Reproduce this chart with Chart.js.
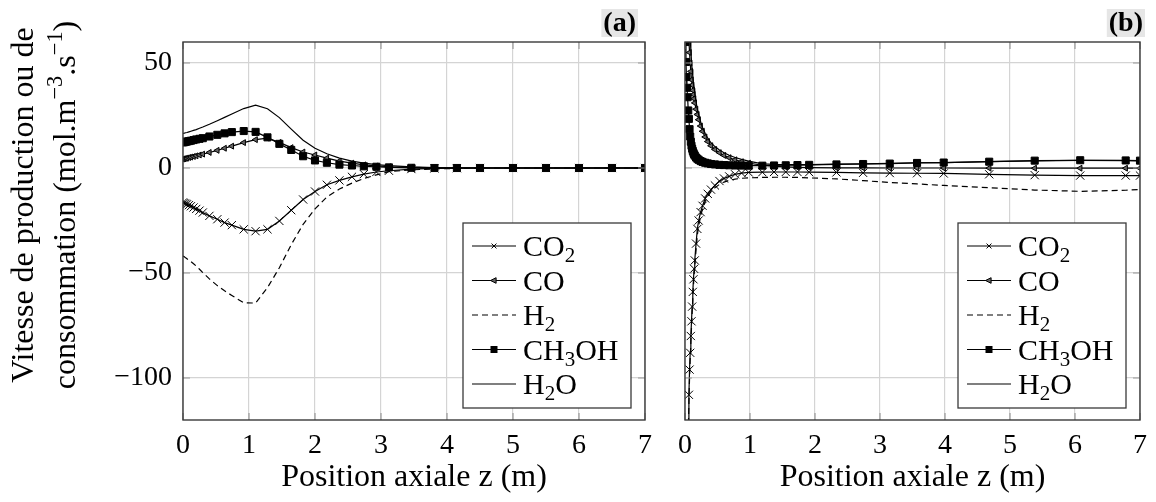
<!DOCTYPE html>
<html>
<head>
<meta charset="utf-8">
<script src="https://cdn.jsdelivr.net/npm/chart.js@4.4.0/dist/chart.umd.min.js"></script>
<style>
  html, body { margin: 0; padding: 0; background: #fff; }
  #wrap { position: relative; width: 1156px; height: 502px; }
  .panel { position: absolute; top: 0; }
  #panelA { left: 0; }
  #panelB { left: 665px; }
</style>
</head>
<body>
<div id="wrap">
  <div class="panel" id="panelA"><canvas id="chartA" width="665" height="502"></canvas></div>
  <div class="panel" id="panelB"><canvas id="chartB" width="491" height="502"></canvas></div>
</div>
<script>
// ---- data ----
const seriesNames = ['CO₂', 'CO', 'H₂', 'CH₃OH', 'H₂O'];
const xTicks = [0, 1, 2, 3, 4, 5, 6, 7];
const yTicks = [-100, -50, 0, 50];

// panel (a)
const zA = [0, 0.02, 0.04, 0.06, 0.09, 0.12, 0.16, 0.2, 0.25, 0.3,
  0.4, 0.52, 0.63, 0.74, 0.92, 1.1, 1.28, 1.46, 1.64, 1.82,
  2.0, 2.18, 2.37, 2.56, 2.74, 2.93, 3.12, 3.46, 3.81, 4.15,
  4.5, 5.0, 5.5, 6.0, 6.5, 7.0];
const co2A = [-16.4, -16.7, -17.0, -17.3, -17.7, -18.2, -18.8, -19.5, -20.3, -21.2,
  -22.8, -24.4, -26.0, -27.2, -29.2, -30.1, -29.2, -25.2, -20.1, -15.0,
  -11.2, -8.0, -5.9, -4.2, -2.9, -1.9, -1.3, -0.5, -0.2, -0.1,
  0, 0, 0, 0, 0, 0];
const coA = [4.3, 4.4, 4.6, 4.7, 5.0, 5.2, 5.5, 5.8, 6.2, 6.6,
  7.4, 8.4, 9.4, 10.4, 12.1, 13.5, 14.2, 12.2, 9.7, 7.6,
  6.2, 4.7, 3.3, 2.3, 1.5, 1.0, 0.6, 0.3, 0.1, 0,
  0, 0, 0, 0, 0, 0];
const h2A = [-41.9, -42.3, -42.8, -43.2, -43.9, -44.6, -45.6, -46.7, -48.2, -49.8,
  -52.8, -56.0, -58.5, -60.7, -64.2, -64.3, -57.0, -47.5, -36.5, -26.8,
  -19.5, -13.8, -10.0, -7.2, -5.0, -3.3, -1.7, -0.9, -0.4, -0.2,
  0, 0, 0, 0, 0, 0];
const ch3ohA = [12.2, 12.3, 12.5, 12.6, 12.8, 13.0, 13.3, 13.6, 13.9, 14.2,
  15.0, 15.8, 16.5, 17.1, 17.6, 17.2, 14.6, 11.5, 8.6, 5.6,
  3.6, 2.5, 1.6, 1.2, 0.8, 0.6, 0.3, 0.1, 0, 0,
  0, 0, 0, 0, 0, 0];
const h2oA = [16.5, 16.6, 16.8, 16.9, 17.2, 17.5, 17.9, 18.3, 18.9, 19.5,
  20.8, 22.5, 24.1, 25.7, 28.3, 29.9, 28.2, 24.0, 18.5, 13.2,
  9.4, 6.8, 4.7, 3.3, 2.3, 1.6, 1.1, 0.5, 0.2, 0.1,
  0, 0, 0, 0, 0, 0];

// panel (b)
const zB = [0.008, 0.015, 0.022, 0.03, 0.04, 0.05, 0.06, 0.07, 0.08, 0.09,
  0.1, 0.11, 0.12, 0.13, 0.14, 0.15, 0.17, 0.19, 0.21, 0.24,
  0.27, 0.31, 0.35, 0.4, 0.46, 0.53, 0.6, 0.68, 0.77, 0.87,
  0.98, 1.19, 1.37, 1.55, 1.73, 1.91, 2.33, 2.74, 3.15, 3.57,
  3.98, 4.68, 5.38, 6.08, 6.78, 7.0];
const co2B = [-250, -220, -190, -165, -140, -122, -108, -96, -88, -80,
  -73, -66, -59, -53, -48, -44, -36, -29, -25, -21,
  -18, -14.5, -12.3, -10.3, -8.3, -6.2, -5.0, -4.0, -3.0, -2.4,
  -2.1, -2.0, -1.9, -1.9, -1.9, -2.0, -2.1, -2.3, -2.4, -2.5,
  -2.6, -3.0, -3.4, -3.6, -3.6, -3.6];
const coB = [130, 115, 102, 90, 78, 68, 61, 55, 50, 46,
  42, 39.5, 37, 35, 33, 31, 28, 25.5, 23, 20,
  17.5, 14.8, 12.6, 10.6, 8.8, 7.3, 6.0, 4.9, 3.9, 3.0,
  2.3, 1.3, 0.8, 0.5, 0.3, 0.2, 0.1, 0.05, 0, 0,
  0, -0.05, -0.1, -0.1, -0.1, -0.1];
const h2B = [-260, -230, -200, -172, -145, -126, -112, -100, -91, -83,
  -76, -69, -62, -56, -51, -47, -39, -32, -27.5, -23,
  -19.5, -16, -13.5, -11.3, -9.4, -7.8, -6.7, -5.9, -5.3, -4.9,
  -4.7, -4.5, -4.4, -4.4, -4.5, -4.7, -5.2, -6.0, -6.9, -7.6,
  -8.3, -9.4, -10.5, -11.1, -10.6, -10.2];
const ch3ohB = [60, 50.5, 43.3, 38.2, 33.7, 27.4, 23.4, 18.5, 15, 12.5,
  10.6, 9.2, 8.1, 7.2, 6.5, 5.9, 5.0, 4.4, 3.9, 3.3,
  2.9, 2.5, 2.2, 1.9, 1.7, 1.5, 1.4, 1.3, 1.2, 1.15,
  1.1, 1.1, 1.2, 1.3, 1.4, 1.5, 1.7, 1.9, 2.1, 2.4,
  2.6, 3.0, 3.5, 3.7, 3.6, 3.5];
const h2oB = [200, 170, 145, 125, 105, 90, 78, 69, 62, 56,
  51, 47, 43.5, 40.5, 38, 35.5, 31.5, 28, 25.5, 22,
  19.3, 16.5, 14.2, 12, 10.2, 8.6, 7.3, 6.1, 5.0, 4.1,
  3.3, 2.0, 1.7, 1.6, 1.6, 1.6, 1.8, 2.0, 2.2, 2.5,
  2.6, 3.0, 3.4, 3.6, 3.5, 3.4];

// ---- styling ----
const FONT = '"Liberation Serif", "DejaVu Serif", serif';
const GRID = '#d4d4d4';
const markers = ['crossRot', 'triangle', false, 'rect', false];
const radii = [5.8, 3.4, 0, 5, 0];
const rotations = [0, -90, 0, 0, 0];
const fills = ['#000', '#666', '#000', '#000', '#000'];
const dashes = [[], [], [6, 4], [], []];

const SUBS = { '₀': '0', '₁': '1', '₂': '2', '₃': '3', '₄': '4' };
const SUPS = { '⁻': '−', '¹': '1', '²': '2', '³': '3' };

function runs(text) {
  const out = [];
  for (const ch of text) {
    const kind = SUBS[ch] ? 'sub' : (SUPS[ch] ? 'sup' : 'n');
    const t = SUBS[ch] || SUPS[ch] || ch;
    const last = out[out.length - 1];
    if (last && last.kind === kind) last.t += t;
    else out.push({ t, kind });
  }
  return out;
}

// draws text with sub/superscripts, baseline at y
function richText(ctx, text, x, y, size, align, bold) {
  const parts = runs(text);
  const setFont = k => { ctx.font = (bold ? 'bold ' : '') + (k === 'n' ? size : size * 0.7) + 'px ' + FONT; };
  let w = 0;
  parts.forEach(p => { setFont(p.kind); p.w = ctx.measureText(p.t).width; w += p.w; });
  let cx = align === 'center' ? x - w / 2 : x;
  ctx.textAlign = 'left';
  ctx.textBaseline = 'alphabetic';
  parts.forEach(p => {
    setFont(p.kind);
    const dy = p.kind === 'sub' ? size * 0.2 : (p.kind === 'sup' ? -size * 0.42 : 0);
    ctx.fillText(p.t, cx, y + dy);
    cx += p.w;
  });
  return w;
}

function drawMarker(ctx, style, x, y, r) {
  ctx.beginPath();
  if (style === 'crossRot') {
    const d = r * 0.7;
    ctx.moveTo(x - d, y - d); ctx.lineTo(x + d, y + d);
    ctx.moveTo(x + d, y - d); ctx.lineTo(x - d, y + d);
    ctx.stroke();
  } else if (style === 'triangle') {
    ctx.moveTo(x - r, y); ctx.lineTo(x + r * 0.6, y - r * 0.8); ctx.lineTo(x + r * 0.6, y + r * 0.8);
    ctx.closePath(); ctx.fill(); ctx.stroke();
  } else if (style === 'rect') {
    ctx.rect(x - r, y - r, 2 * r, 2 * r); ctx.fill();
  }
}

const panelDecor = {
  id: 'panelDecor',
  afterDatasetsDraw(chart, args, o) {
    const ctx = chart.ctx;
    const a = chart.chartArea;
    const xs = chart.scales.x, ys = chart.scales.y;
    ctx.save();
    // inner tick marks
    ctx.strokeStyle = '#9a9a9a';
    ctx.lineWidth = 1.2;
    ctx.beginPath();
    xTicks.forEach(v => {
      const px = xs.getPixelForValue(v);
      ctx.moveTo(px, a.top); ctx.lineTo(px, a.top + 7);
      ctx.moveTo(px, a.bottom); ctx.lineTo(px, a.bottom - 7);
    });
    yTicks.forEach(v => {
      const py = ys.getPixelForValue(v);
      ctx.moveTo(a.left, py); ctx.lineTo(a.left + 7, py);
      ctx.moveTo(a.right, py); ctx.lineTo(a.right - 7, py);
    });
    ctx.stroke();
    // frame
    ctx.strokeStyle = '#3a3a3a';
    ctx.lineWidth = 1.4;
    ctx.strokeRect(a.left, a.top, a.right - a.left, a.bottom - a.top);

    // legend box
    const bw = 168, bh = 185;
    const bx = a.right - 14 - bw, by = a.bottom - 12 - bh;
    ctx.fillStyle = '#fff';
    ctx.fillRect(bx, by, bw, bh);
    ctx.strokeStyle = '#3a3a3a';
    ctx.lineWidth = 1.3;
    ctx.strokeRect(bx, by, bw, bh);
    chart.data.datasets.forEach((ds, i) => {
      const ry = by + 23 + i * 34.5;
      ctx.strokeStyle = '#000';
      ctx.fillStyle = fills[i];
      ctx.lineWidth = 1.2;
      ctx.setLineDash(dashes[i]);
      ctx.beginPath();
      ctx.moveTo(bx + 9, ry); ctx.lineTo(bx + 53, ry);
      ctx.stroke();
      ctx.setLineDash([]);
      ctx.lineWidth = 1;
      if (markers[i]) drawMarker(ctx, markers[i], bx + 31, ry, 3.5);
      ctx.fillStyle = '#000';
      richText(ctx, ds.label, bx + 60, ry + 10, 30, 'left', false);
    });

    // panel label
    ctx.font = 'bold 28px ' + FONT;
    const lw = ctx.measureText(o.label).width;
    const lx = o.labelRight - lw;
    ctx.fillStyle = '#e6e6e6';
    ctx.fillRect(lx - 2, 9, lw + 4, 28);
    ctx.fillStyle = '#000';
    richText(ctx, o.label, lx, 31, 28, 'left', true);

    // y axis title (panel a only)
    if (o.yTitle) {
      o.yTitle.forEach((line, k) => {
        ctx.save();
        ctx.translate(o.yTitleX[k], o.yTitleY);
        ctx.rotate(-Math.PI / 2);
        ctx.fillStyle = '#000';
        richText(ctx, line, 0, 0, 32, 'center', false);
        ctx.restore();
      });
    }
    ctx.restore();
  }
};

function makeChart(id, zs, cols, cfg) {
  const datasets = seriesNames.map((name, i) => ({
    label: name,
    data: zs.map((z, k) => ({ x: z, y: cols[i][k] })),
    borderColor: '#000',
    backgroundColor: fills[i],
    borderWidth: 1.2,
    borderDash: dashes[i],
    pointStyle: markers[i] || 'circle',
    pointRadius: radii[i],
    pointHoverRadius: radii[i],
    pointRotation: rotations[i],
    pointBorderColor: '#000',
    pointBorderWidth: 1,
    tension: 0,
    order: -i,
  }));

  return new Chart(document.getElementById(id), {
    type: 'line',
    data: { datasets },
    plugins: [panelDecor],
    options: {
      responsive: false,
      animation: false,
      events: [],
      layout: { padding: { left: 0, right: cfg.padRight, top: 42, bottom: 0 } },
      plugins: {
        legend: { display: false },
        tooltip: { enabled: false },
        panelDecor: cfg.decor,
      },
      scales: {
        x: {
          type: 'linear',
          min: 0,
          max: 7,
          afterBuildTicks: s => { s.ticks = xTicks.map(v => ({ value: v })); },
          afterFit: s => { s.height = 82; },
          grid: { color: GRID, lineWidth: 1.2, drawTicks: false },
          border: { display: false },
          ticks: { color: '#000', font: { family: FONT, size: 28 }, padding: 9, maxRotation: 0 },
          title: {
            display: true,
            text: 'Position axiale z (m)',
            color: '#000',
            font: { family: FONT, size: 32 },
            padding: { top: 0, bottom: 5 },
          },
        },
        y: {
          type: 'linear',
          min: -120,
          max: 60,
          afterBuildTicks: s => { s.ticks = yTicks.map(v => ({ value: v })); },
          afterFit: s => { s.width = cfg.yWidth; },
          grid: { color: GRID, lineWidth: 1.2, drawTicks: false },
          border: { display: false },
          ticks: {
            display: cfg.showY,
            color: '#000',
            font: { family: FONT, size: 28 },
            padding: 11,
            callback: v => String(v).replace('-', '−'),
          },
        },
      },
    },
  });
}

makeChart('chartA', zA, [co2A, coA, h2A, ch3ohA, h2oA], {
  padRight: 20,
  yWidth: 183,
  showY: true,
  decor: {
    label: '(a)',
    labelRight: 636,
    yTitle: ['Vitesse de production ou de', 'consommation (mol.m⁻³.s⁻¹)'],
    yTitleX: [33, 75],
    yTitleY: 205,
  },
});

makeChart('chartB', zB, [co2B, coB, h2B, ch3ohB, h2oB], {
  padRight: 10,
  yWidth: 20,
  showY: false,
  decor: { label: '(b)', labelRight: 1143 - 665 },
});
</script>
</body>
</html>
